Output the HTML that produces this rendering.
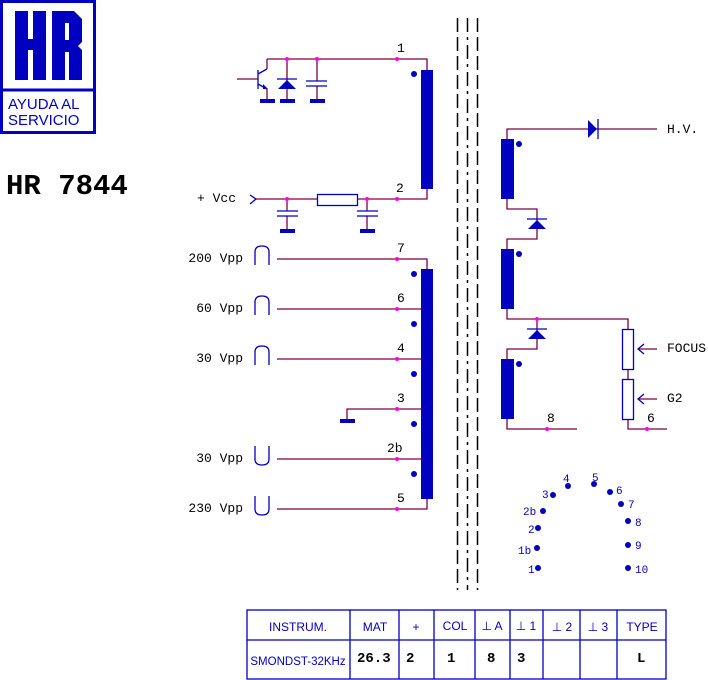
<!DOCTYPE html>
<html><head><style>
body{margin:0;background:#fff;}
svg{display:block;}
.m{font-family:"Liberation Mono",monospace;font-size:13px;fill:#000;}
.s{font-family:"Liberation Sans",sans-serif;fill:#0000c0;}
</style></head><body>
<svg width="708" height="680" viewBox="0 0 708 680" xmlns="http://www.w3.org/2000/svg">
<rect x="1.5" y="1.5" width="93" height="131" fill="none" stroke="#0000c0" stroke-width="3"/>
<line x1="1" y1="90" x2="96" y2="90" stroke="#0000c0" stroke-width="3"/>
<g fill="#0000c0">
<rect x="15" y="11" width="13" height="69"/><rect x="33" y="11" width="13" height="69"/><rect x="26" y="39" width="9" height="11"/>
<path d="M52 11 H74 L82 19 V42 L78 46 L82 50 V80 H69 V52 H65 V80 H52 Z M65 23 V40 H69 V23 Z"/>
</g>
<text class="s" x="8" y="109" font-size="15">AYUDA AL</text>
<text class="s" x="8" y="125" font-size="15">SERVICIO</text>
<text x="6" y="194" font-family="Liberation Mono,monospace" font-weight="bold" font-size="29">HR 7844</text>
<g stroke="#000" stroke-width="1.5" stroke-dasharray="14,5">
<line x1="457.5" y1="18" x2="457.5" y2="590"/><line x1="477.5" y1="18" x2="477.5" y2="590"/></g>
<line x1="467.5" y1="18" x2="467.5" y2="590" stroke="#000" stroke-width="1.5" stroke-dasharray="14,5,3,5"/>
<g stroke="#800040" stroke-width="1.3" fill="none">
<polyline points="267,59 427,59 427,70"/>
<polyline points="267,59 267,69"/>
<line x1="287" y1="59" x2="287" y2="100"/><line x1="317" y1="59" x2="317" y2="81"/><line x1="317" y1="86" x2="317" y2="100"/>
<line x1="267" y1="89" x2="267" y2="100"/>
<polyline points="256,199 317,199"/><polyline points="357,199 427,199 427,189"/>
<line x1="287" y1="199" x2="287" y2="211"/><line x1="287" y1="216" x2="287" y2="230"/>
<line x1="367" y1="199" x2="367" y2="211"/><line x1="367" y1="216" x2="367" y2="230"/>
<polyline points="277,259 427,259 427,269"/>
<line x1="277" y1="309" x2="427" y2="309"/><line x1="277" y1="359" x2="427" y2="359"/>
<polyline points="347,420 347,409 427,409"/>
<line x1="277" y1="459" x2="427" y2="459"/>
<polyline points="277,509 427,509 427,499"/>
<polyline points="507,139 507,129 657,129"/>
<polyline points="507,199 507,209 537,209 537,239 507,239 507,249"/>
<polyline points="507,309 507,319 628,319 628,329"/>
<polyline points="537,319 537,349 507,349 507,359"/>
<polyline points="507,419 507,429 577,429"/>
<line x1="628" y1="369" x2="628" y2="379"/>
<polyline points="628,419 628,429 667,429"/>
<line x1="638" y1="349" x2="657" y2="349"/><line x1="638" y1="399" x2="657" y2="399"/>
</g>
<line x1="237" y1="79" x2="258" y2="79" stroke="#800040" stroke-width="1.3"/>
<g fill="#0000c0">
<rect x="421" y="70" width="12" height="119"/><rect x="421" y="269" width="12" height="230"/>
<rect x="501" y="139" width="13" height="60"/><rect x="501" y="249" width="13" height="60"/><rect x="501" y="359" width="13" height="60"/>
<circle cx="414" cy="74" r="3"/>
<circle cx="414" cy="274" r="3"/><circle cx="414" cy="324" r="3"/><circle cx="414" cy="374" r="3"/><circle cx="414" cy="424" r="3"/><circle cx="414" cy="474" r="3"/>
<circle cx="519" cy="144" r="3"/><circle cx="519" cy="254" r="3"/><circle cx="519" cy="364" r="3"/>
<rect x="260" y="99" width="15" height="4"/><rect x="280" y="99" width="15" height="4"/><rect x="310" y="99" width="15" height="4"/>
<rect x="280" y="229" width="15" height="4"/><rect x="360" y="229" width="15" height="4"/><rect x="340" y="419" width="15" height="4"/>
<polygon points="278,89 296,89 287,80"/><polygon points="528,229 546,229 537,220"/><polygon points="528,339 546,339 537,330"/>
<polygon points="588,120 588,138 597,129"/>
<polygon points="263,84 268,89 263,89"/>
</g>
<g stroke="#0000c0" stroke-width="1.3" fill="none">
<line x1="277" y1="79" x2="297" y2="79"/><line x1="527" y1="219" x2="547" y2="219"/><line x1="527" y1="329" x2="547" y2="329"/><line x1="598" y1="119" x2="598" y2="139"/>
<line x1="258" y1="70" x2="258" y2="89"/><line x1="258" y1="74" x2="267" y2="69"/><line x1="258" y1="84" x2="267" y2="89"/>
<line x1="306" y1="81" x2="327" y2="81"/><line x1="306" y1="86" x2="327" y2="86"/>
<line x1="277" y1="211" x2="298" y2="211"/><line x1="277" y1="216" x2="298" y2="216"/>
<line x1="357" y1="211" x2="378" y2="211"/><line x1="357" y1="216" x2="378" y2="216"/>
<rect x="317.5" y="194.5" width="40" height="11"/>
<rect x="622.5" y="329.5" width="11" height="40"/><rect x="622.5" y="379.5" width="11" height="40"/>
<polyline points="250,195 256,199 250,204"/>
<polyline points="644,344 638,349 644,354"/><polyline points="644,394 638,399 644,404"/>
<path d="M255,265 V252 Q255,246 262,246 Q269,246 269,252 V265"/>
<path d="M255,315 V302 Q255,296 262,296 Q269,296 269,302 V315"/>
<path d="M255,365 V352 Q255,346 262,346 Q269,346 269,352 V365"/>
<path d="M255,446 V459 Q255,465 262,465 Q269,465 269,459 V446"/>
<path d="M255,496 V509 Q255,515 262,515 Q269,515 269,509 V496"/>
</g>
<g fill="#ff00ff">
<circle cx="287" cy="59" r="2"/><circle cx="317" cy="59" r="2"/><circle cx="397" cy="59" r="2"/>
<circle cx="287" cy="199" r="2"/><circle cx="367" cy="199" r="2"/><circle cx="397" cy="199" r="2"/>
<circle cx="397" cy="259" r="2"/><circle cx="397" cy="309" r="2"/><circle cx="397" cy="359" r="2"/><circle cx="397" cy="409" r="2"/><circle cx="397" cy="459" r="2"/><circle cx="397" cy="509" r="2"/>
<circle cx="537" cy="319" r="2"/><circle cx="547" cy="429" r="2"/><circle cx="647" cy="429" r="2"/>
</g>
<g class="m">
<text x="397" y="52">1</text><text x="396" y="192">2</text>
<text x="397" y="252">7</text><text x="397" y="302">6</text><text x="397" y="352">4</text><text x="397" y="402">3</text><text x="387" y="452">2b</text><text x="397" y="502">5</text>
<text x="197" y="202">+ Vcc</text>
<text x="243" y="262" text-anchor="end">200 Vpp</text><text x="243" y="312" text-anchor="end">60 Vpp</text><text x="243" y="362" text-anchor="end">30 Vpp</text>
<text x="243" y="462" text-anchor="end">30 Vpp</text><text x="243" y="512" text-anchor="end">230 Vpp</text>
<text x="667" y="133">H.V.</text><text x="667" y="352">FOCUS</text><text x="667" y="402">G2</text>
<text x="547" y="422">8</text><text x="647" y="422">6</text>
</g>
<g fill="#0000c0">
<circle cx="538" cy="568" r="3"/><circle cx="537" cy="548" r="3"/><circle cx="538" cy="528" r="3"/><circle cx="543" cy="511" r="3"/><circle cx="553" cy="495" r="3"/><circle cx="568" cy="486" r="3"/><circle cx="594" cy="484" r="3"/><circle cx="610" cy="492" r="3"/><circle cx="621" cy="504" r="3"/><circle cx="628" cy="521" r="3"/><circle cx="628" cy="545" r="3"/><circle cx="628" cy="568" r="3"/>
</g>
<g font-family="Liberation Mono,monospace" font-size="11" fill="#0000c0">
<text x="528" y="573">1</text><text x="518" y="554">1b</text><text x="528" y="533">2</text><text x="523" y="515">2b</text><text x="542" y="498">3</text><text x="563" y="482">4</text><text x="592" y="481">5</text><text x="616" y="494">6</text><text x="628" y="508">7</text><text x="635" y="526">8</text><text x="635" y="549">9</text><text x="635" y="573">10</text>
</g>
<g stroke="#0000c0" stroke-width="1.3" fill="none">
<rect x="247" y="610" width="419" height="69"/>
<line x1="247" y1="640" x2="666" y2="640"/>
<line x1="350" y1="610" x2="350" y2="679"/><line x1="399" y1="610" x2="399" y2="679"/><line x1="434" y1="610" x2="434" y2="679"/><line x1="475" y1="610" x2="475" y2="679"/><line x1="510" y1="610" x2="510" y2="679"/><line x1="543" y1="610" x2="543" y2="679"/><line x1="580" y1="610" x2="580" y2="679"/><line x1="617" y1="610" x2="617" y2="679"/>
</g>
<g class="s" font-size="12" text-anchor="middle">
<text x="298" y="631">INSTRUM.</text><text x="375" y="631">MAT</text><text x="416" y="631">+</text><text x="455" y="630">COL</text><text x="492" y="630">⊥ A</text><text x="526" y="630">⊥ 1</text><text x="562" y="631">⊥ 2</text><text x="598" y="631">⊥ 3</text><text x="642" y="631">TYPE</text>
<text x="298" y="665" font-size="11.5">SMONDST-32KHz</text>
</g>
<g font-family="Liberation Mono,monospace" font-weight="bold" font-size="14" fill="#000">
<text x="357" y="662">26.3</text><text x="406" y="662">2</text><text x="447" y="662">1</text><text x="487" y="662">8</text><text x="517" y="662">3</text><text x="637" y="662">L</text>
</g>
</svg>
</body></html>
